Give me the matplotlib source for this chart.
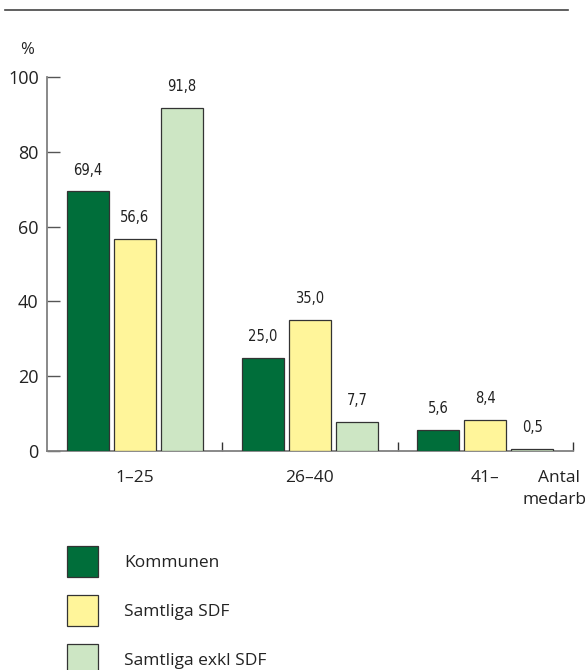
import numpy as np
import matplotlib
matplotlib.use('Agg')
import matplotlib.pyplot as plt
from matplotlib.lines import Line2D
from matplotlib.patches import Rectangle

plt.rcParams['font.family'] = ['Open Sans', 'DejaVu Sans']

groups = ['1–25', '26–40', '41–']
series = ['Kommunen', 'Samtliga SDF', 'Samtliga exkl SDF']
kommunen = [69.4, 25.0, 5.6]
samtliga_sdf = [56.6, 35.0, 8.4]
samtliga_exkl = [91.8, 7.7, 0.5]
colors = ['#006e3a', '#fff59a', '#cde6c4']

fig = plt.figure(figsize=(5.85, 6.7), dpi=100)
ax = fig.add_axes([47/585, 219/670, 526/585, 374/670])

x = np.arange(len(groups))
step = 0.2686
width = 0.24
values = [kommunen, samtliga_sdf, samtliga_exkl]
for i, (vals, col) in enumerate(zip(values, colors)):
    bars = ax.bar(x + (i - 1) * step, vals, width, color=col,
                  edgecolor='#333333', linewidth=0.9, zorder=3)
    for b, v in zip(bars, vals):
        ax.annotate(f'{v:.1f}'.replace('.', ','),
                    (b.get_x() + b.get_width() / 2, v),
                    xytext=(0, 10), textcoords='offset points',
                    ha='center', va='bottom', fontsize=10.5,
                    family='DejaVu Sans', fontstretch='condensed',
                    color='#222222')

ax.set_xlim(-0.5, 2.5)
ax.set_ylim(0, 100)
ax.set_yticks([0, 20, 40, 60, 80, 100])
ax.set_xticks(x)
ax.set_xticklabels(groups)
ax.set_xticks([0.5, 1.5, 2.5], minor=True)

for s in ['top', 'right']:
    ax.spines[s].set_visible(False)
for s in ['left', 'bottom']:
    ax.spines[s].set_color('#808080')
    ax.spines[s].set_linewidth(1.3)

ax.tick_params(axis='y', direction='in', length=9.5, width=1.0,
               color='#555555', pad=6, labelsize=13, labelcolor='#222222')
ax.tick_params(axis='x', which='major', length=0, pad=14,
               labelsize=12.5, labelcolor='#222222')
ax.tick_params(axis='x', which='minor', direction='in', length=6.5,
               width=1.0, color='#333333')

# axis captions
fig.text(27/585, 1 - 50/670, '%', ha='center', va='center',
         fontsize=12, color='#222222')
fig.text(538/585, 1 - 478/670, 'Antal', ha='left', va='center',
         fontsize=12.5, color='#222222')
fig.text(523/585, 1 - 500/670, 'medarbetare', ha='left', va='center',
         fontsize=12.5, color='#222222')

# horizontal rule across the top
fig.add_artist(Line2D([5/585, 568/585], [1 - 10/670, 1 - 10/670],
                      color='#444444', linewidth=1.2))

# legend boxes
legend_y = [546, 595, 644]
for name, col, yt in zip(series, colors, legend_y):
    fig.add_artist(Rectangle((67/585, 1 - (yt + 31)/670), 31/585, 31/670,
                             facecolor=col, edgecolor='#333333',
                             linewidth=0.9, transform=fig.transFigure))
    fig.text(124/585, 1 - (yt + 17)/670, name, ha='left', va='center',
             fontsize=12.5, color='#222222')

fig.savefig('out.png', dpi=100)
